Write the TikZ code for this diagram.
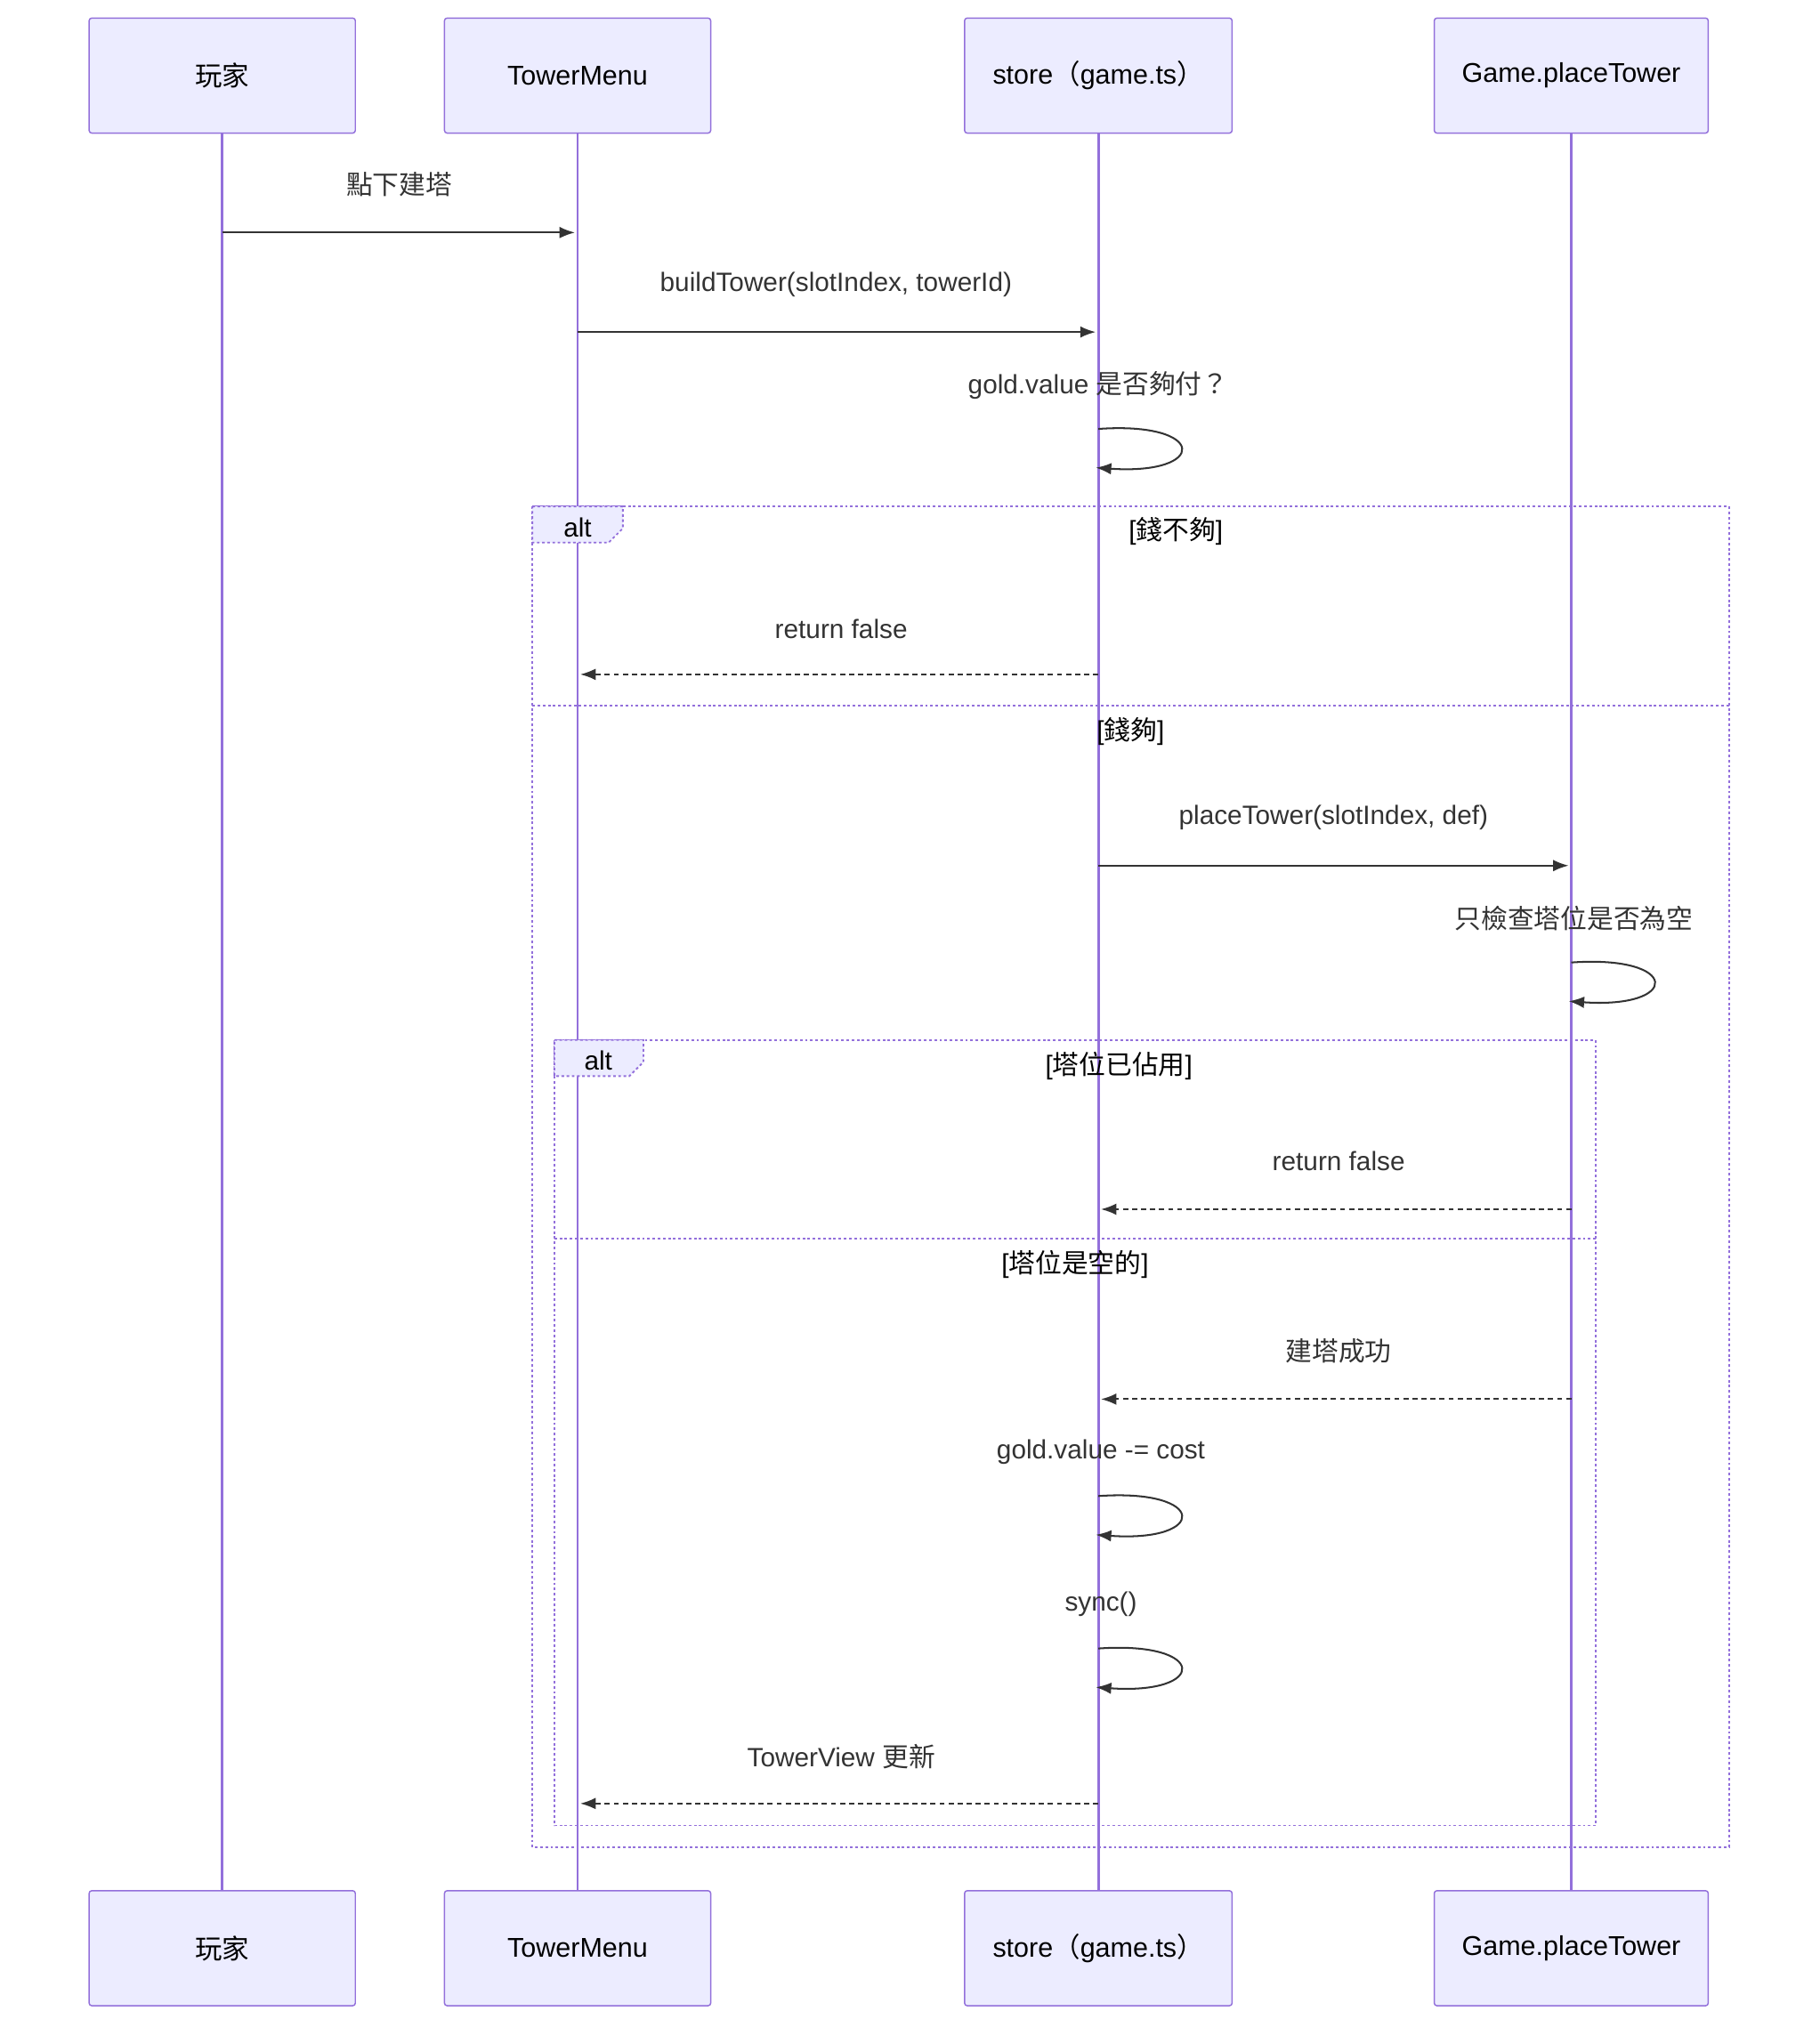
\documentclass[tikz,border=0pt]{standalone}
\usepackage{fontspec}
\setmainfont{Liberation Sans}
\newfontfamily\cjk{Noto Sans CJK TC}
\usetikzlibrary{arrows.meta}
\definecolor{lline}{HTML}{9370DB}
\definecolor{actfill}{HTML}{ECECFF}
\definecolor{msg}{HTML}{333333}
\begin{document}
\begin{tikzpicture}[x=1pt,y=-1pt,
  actor/.style={draw=lline,fill=actfill,line width=1pt,rounded corners=2pt,minimum height=89pt,inner sep=0pt,font=\fontsize{21}{25}\selectfont},
  life/.style={draw=lline,line width=2pt},
  m/.style={draw=msg,line width=1.4pt,-{Latex[length=12pt,width=9pt]}},
  md/.style={m,dash pattern=on 4pt off 3pt},
  lbl/.style={font=\fontsize{20.5}{24}\selectfont,text=msg,inner sep=0pt},
  frame/.style={draw=lline,line width=1.3pt,dash pattern=on 2pt off 2pt},
  cond/.style={font=\fontsize{20.5}{24}\selectfont,text=black,inner sep=0pt}]
\useasboundingbox (0,0) rectangle (1408,1569);
% lifelines
\foreach \n/\x in {a/172,b/447,c/850,d/1216}{
  \coordinate (\n0) at (\x,103); \coordinate (\n1) at (\x,1464);
  \draw[life] (\n0) -- (\n1);}
% actors
\foreach \n/\x/\w/\t in {A/172/206/{\cjk 玩家},B/447/206/TowerMenu,C/850/207/{store{\cjk （}game.ts{\cjk ）}},D/1216/212/Game.placeTower}{
  \node[actor,minimum width=\w pt] (\n top) at (\x,58.5) {\t};
  \node[actor,minimum width=\w pt] (\n bot) at (\x,1508) {\t};}
% frames
\draw[frame] (412,392) rectangle (1338,1430);
\draw[frame,fill=actfill] (412,392) -- (482,392) -- (482,409) -- (471,420) -- (412,420) -- cycle;
\node[lbl,text=black] (alt1) at (447,408) {alt};
\node[cond] (c1) at (910,411) {[{\cjk 錢不夠}]};
\draw[frame] (412,546) -- (1338,546);
\node[cond] (c2) at (875,566) {[{\cjk 錢夠}]};
\draw[frame] (429,805) rectangle (1235,1413);
\draw[frame,fill=actfill] (429,805) -- (498,805) -- (498,822) -- (487,833) -- (429,833) -- cycle;
\node[lbl,text=black] (alt2) at (463,821) {alt};
\node[cond] (c3) at (866,825) {[{\cjk 塔位已佔用}]};
\draw[frame] (429,959) -- (1235,959);
\node[cond] (c4) at (832,979) {[{\cjk 塔位是空的}]};
% messages
\coordinate (m1s) at (172,180); \coordinate (m1e) at (445,180);
\node[lbl] (l1) at (309,143) {\cjk 點下建塔};
\draw[m] (m1s) -- (m1e);
\coordinate (m2s) at (447,257); \coordinate (m2e) at (848,257);
\node[lbl] (l2) at (647,220) {buildTower(slotIndex, towerId)};
\draw[m] (m2s) -- (m2e);
\node[lbl] (l3) at (850,298) {gold.value {\cjk 是否夠付？}};
\coordinate (s3a) at (850,332); \coordinate (s3b) at (848,362);
\draw[m] (s3a) .. controls (935,326) and (935,368) .. (s3b);
\coordinate (m4s) at (850,522); \coordinate (m4e) at (449,522);
\node[lbl] (l4) at (651,487) {return false};
\draw[md] (m4s) -- (m4e);
\coordinate (m5s) at (850,670); \coordinate (m5e) at (1214,670);
\node[lbl] (l5) at (1032,633) {placeTower(slotIndex, def)};
\draw[m] (m5s) -- (m5e);
\node[lbl] (l6) at (1218,711) {\cjk 只檢查塔位是否為空};
\coordinate (s6a) at (1216,745); \coordinate (s6b) at (1214,775);
\draw[m] (s6a) .. controls (1301,739) and (1301,781) .. (s6b);
\coordinate (m7s) at (1216,936); \coordinate (m7e) at (852,936);
\node[lbl] (l7) at (1036,899) {return false};
\draw[md] (m7s) -- (m7e);
\coordinate (m8s) at (1216,1083); \coordinate (m8e) at (852,1083);
\node[lbl] (l8) at (1036,1046) {\cjk 建塔成功};
\draw[md] (m8s) -- (m8e);
\node[lbl] (l9) at (852,1124) {gold.value -= cost};
\coordinate (s9a) at (850,1158); \coordinate (s9b) at (848,1188);
\draw[m] (s9a) .. controls (935,1152) and (935,1194) .. (s9b);
\node[lbl] (l10) at (852,1242) {sync()};
\coordinate (s10a) at (850,1276); \coordinate (s10b) at (848,1306);
\draw[m] (s10a) .. controls (935,1270) and (935,1312) .. (s10b);
\coordinate (m11s) at (850,1396); \coordinate (m11e) at (449,1396);
\node[lbl] (l11) at (651,1360) {TowerView {\cjk 更新}};
\draw[md] (m11s) -- (m11e);
\end{tikzpicture}
\end{document}
